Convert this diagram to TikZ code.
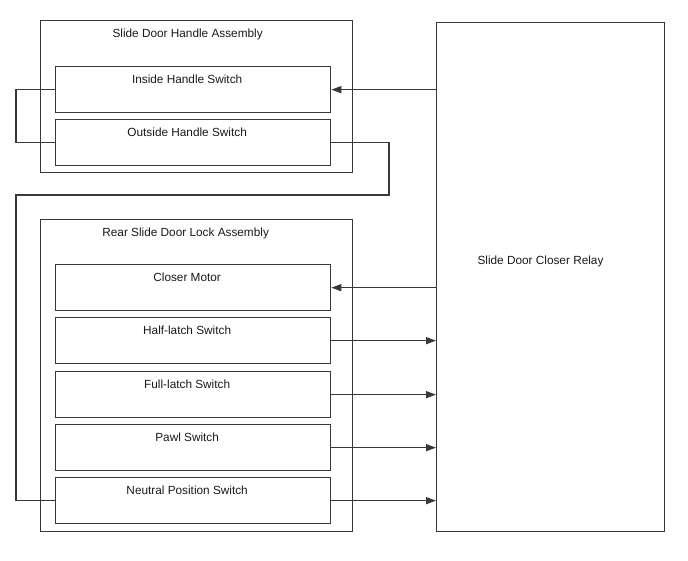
\documentclass[tikz,border=0pt]{standalone}
\usepackage{fontspec}
\setmainfont{Liberation Sans}
\usetikzlibrary{arrows.meta}
\begin{document}
\begin{tikzpicture}[x=1pt,y=-1pt,
		every node/.style={font=\fontsize{11.8}{14}\selectfont},
		blk/.style={draw=black!78,line width=1.3pt,anchor=north west,inner sep=0pt},
		ttl/.style={anchor=base,inner sep=0pt,text=black!90},
		swbox/.style={blk,minimum width=275pt,minimum height=46pt,label={[ttl,xshift=-6pt,yshift=-17pt]north:#1}},
		wire/.style={draw=black!78,line width=1.3pt},
		sig/.style={wire,-{Triangle[length=10pt,width=7pt]}}]
			\useasboundingbox (0,0) rectangle (688,560);
			% handle side
			\node[blk,minimum width=312pt,minimum height=152pt,label={[ttl,xshift=-9pt,yshift=-17pt]north:Slide Door Handle Assembly}] (handleasm) at (40,20) {};
			\node[swbox=Inside Handle Switch] (inside) at (55,66) {};
			\node[swbox=Outside Handle Switch] (outside) at (55,119) {};
			% lock side
			\node[blk,minimum width=312pt,minimum height=312pt,label={[ttl,xshift=-11pt,yshift=-17pt]north:Rear Slide Door Lock Assembly}] (lockasm) at (40,219) {};
			\node[swbox=Closer Motor] (motor) at (55,264) {};
			\node[swbox=Half-latch Switch] (half) at (55,317) {};
			\node[swbox=Full-latch Switch] (full) at (55,371) {};
			\node[swbox=Pawl Switch] (pawl) at (55,424) {};
			\node[swbox=Neutral Position Switch] (neutral) at (55,477) {};
			% relay
			\node[blk,minimum width=228pt,minimum height=509pt] (relay) at (436,22) {};
			\node[ttl] at (540.5,264) {Slide Door Closer Relay};
			% wiring
			\coordinate (leftbus) at (16,0);
			\coordinate (jog) at (389,195);
			\draw[wire] (inside.west) -| (leftbus |- outside.west) -- (outside.west);
			\draw[wire] (outside.east) -| (jog) -- (jog -| leftbus) |- (neutral.west);
			\draw[sig] (inside.east -| relay.west) -- (inside.east);
			\draw[sig] (motor.east -| relay.west) -- (motor.east);
			\draw[sig] (half.east) -- (half.east -| relay.west);
			\draw[sig] (full.east) -- (full.east -| relay.west);
			\draw[sig] (pawl.east) -- (pawl.east -| relay.west);
			\draw[sig] (neutral.east) -- (neutral.east -| relay.west);
		\end{tikzpicture}
\end{document}
